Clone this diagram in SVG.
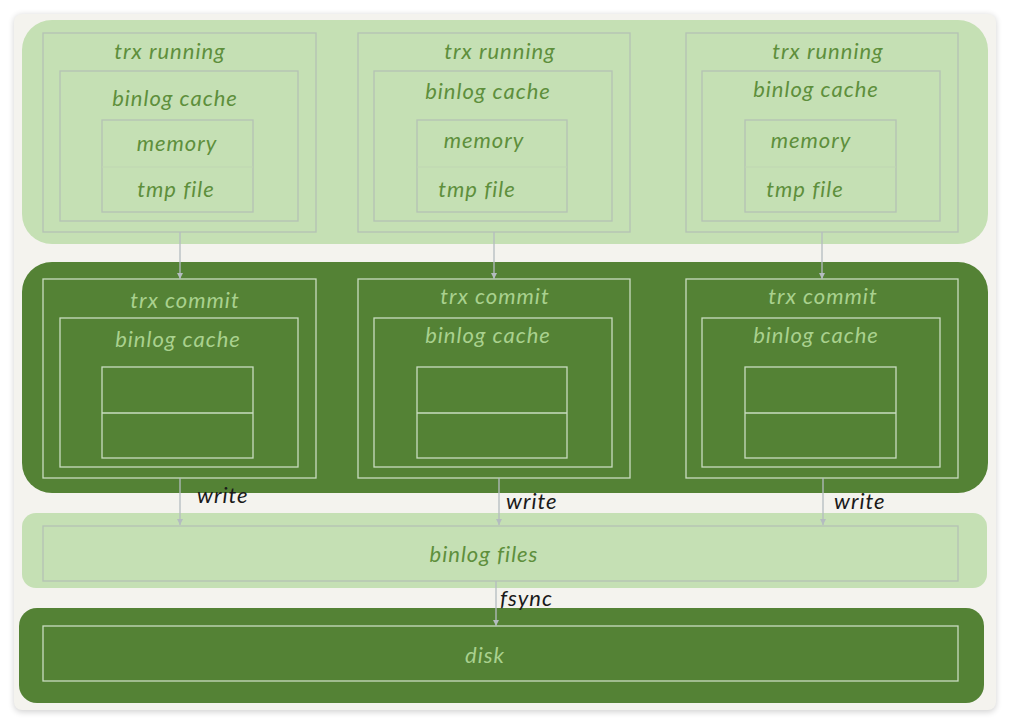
<svg xmlns="http://www.w3.org/2000/svg" width="1010" height="724" viewBox="0 0 1010 724">
<defs>
<filter id="sh" x="-5%" y="-5%" width="110%" height="110%"><feGaussianBlur stdDeviation="3"/></filter>
<marker id="ah" viewBox="0 0 10 10" refX="10" refY="5" markerWidth="5" markerHeight="5" orient="auto"><path d="M0,0 L10,5 L0,10 z" fill="#b4bcc0"/></marker>
<style>
.lt{fill:#c5e0b4}
.dk{fill:#548235}
.lb{fill:none;stroke:#b4c2b4;stroke-width:1.3}
.db{fill:none;stroke:#c9dcc0;stroke-width:1.3}
text{font-family:"Lato","Open Sans",sans-serif;font-size:22px;font-style:italic;letter-spacing:1px}
.tl{fill:#5e8f3c;text-anchor:middle}
.td{fill:#a9d18e;text-anchor:middle}
.tk{fill:#1a1a1a}
.cn{stroke:#b4bcc0;stroke-width:1.3;fill:none;marker-end:url(#ah)}
</style>
</defs>
<rect width="1010" height="724" fill="#ffffff"/>
<rect x="14" y="15" width="982" height="697" rx="8" fill="#000" opacity="0.18" filter="url(#sh)"/>
<rect x="14" y="14" width="982" height="696" rx="8" fill="#f4f3ee"/>

<g id="band-running">
<rect class="lt" x="22" y="20" width="966" height="224" rx="30"/>
</g>
<g id="band-commit">
<rect class="dk" x="22" y="262" width="966" height="231" rx="30"/>
</g>
<g id="band-files">
<rect class="lt" x="22" y="513" width="965" height="75" rx="14"/>
<rect class="lb" x="43" y="526" width="915" height="55"/>
<text class="tl" x="484" y="562">binlog files</text>
</g>
<g id="band-disk">
<rect class="dk" x="19" y="608" width="965" height="95" rx="18"/>
<rect class="db" x="43" y="626" width="915" height="55"/>
<text class="td" x="485" y="663">disk</text>
</g>

<g id="run1">
<rect class="lb" x="43" y="33" width="273" height="199"/>
<text class="tl" x="170" y="59">trx running</text>
<rect class="lb" x="60" y="71" width="238" height="150"/>
<text class="tl" x="175" y="106">binlog cache</text>
<rect class="lb" x="102" y="120" width="151" height="92"/>
<line x1="102" y1="167" x2="253" y2="167" stroke="#bfd6b2" stroke-width="1"/>
<text class="tl" x="177" y="151">memory</text>
<text class="tl" x="176" y="197">tmp file</text>
</g>
<g id="run2">
<rect class="lb" x="358" y="33" width="272" height="199"/>
<text class="tl" x="500" y="59">trx running</text>
<rect class="lb" x="374" y="71" width="238" height="150"/>
<text class="tl" x="488" y="99">binlog cache</text>
<rect class="lb" x="417" y="120" width="150" height="92"/>
<line x1="417" y1="167" x2="567" y2="167" stroke="#bfd6b2" stroke-width="1"/>
<text class="tl" x="484" y="148">memory</text>
<text class="tl" x="477" y="197">tmp file</text>
</g>
<g id="run3">
<rect class="lb" x="686" y="33" width="272" height="199"/>
<text class="tl" x="828" y="59">trx running</text>
<rect class="lb" x="702" y="71" width="238" height="150"/>
<text class="tl" x="816" y="97">binlog cache</text>
<rect class="lb" x="745" y="120" width="151" height="92"/>
<line x1="745" y1="167" x2="896" y2="167" stroke="#bfd6b2" stroke-width="1"/>
<text class="tl" x="811" y="148">memory</text>
<text class="tl" x="805" y="197">tmp file</text>
</g>

<g id="commit1">
<rect class="db" x="43" y="279" width="273" height="199"/>
<text class="td" x="185" y="308">trx commit</text>
<rect class="db" x="60" y="318" width="238" height="149"/>
<text class="td" x="178" y="347">binlog cache</text>
<rect class="db" x="102" y="367" width="151" height="91"/>
<line x1="102" y1="413" x2="253" y2="413" stroke="#c9dcc0" stroke-width="1.3"/>
</g>
<g id="commit2">
<rect class="db" x="358" y="279" width="272" height="199"/>
<text class="td" x="495" y="304">trx commit</text>
<rect class="db" x="374" y="318" width="238" height="149"/>
<text class="td" x="488" y="343">binlog cache</text>
<rect class="db" x="417" y="367" width="150" height="91"/>
<line x1="417" y1="413" x2="567" y2="413" stroke="#c9dcc0" stroke-width="1.3"/>
</g>
<g id="commit3">
<rect class="db" x="686" y="279" width="272" height="199"/>
<text class="td" x="823" y="304">trx commit</text>
<rect class="db" x="702" y="318" width="238" height="149"/>
<text class="td" x="816" y="343">binlog cache</text>
<rect class="db" x="745" y="367" width="151" height="91"/>
<line x1="745" y1="413" x2="896" y2="413" stroke="#c9dcc0" stroke-width="1.3"/>
</g>

<g id="connectors">
<line class="cn" x1="180" y1="232" x2="180" y2="279"/>
<line class="cn" x1="494" y1="232" x2="494" y2="279"/>
<line class="cn" x1="822" y1="232" x2="822" y2="279"/>
<line class="cn" x1="180" y1="478" x2="180" y2="525"/>
<line class="cn" x1="499" y1="478" x2="499" y2="525"/>
<line class="cn" x1="823" y1="478" x2="823" y2="525"/>
<line class="cn" x1="496" y1="581" x2="496" y2="626"/>
<text class="tk" x="197" y="503">write</text>
<text class="tk" x="506" y="509">write</text>
<text class="tk" x="834" y="509">write</text>
<text class="tk" x="500" y="606">fsync</text>
</g>
</svg>
